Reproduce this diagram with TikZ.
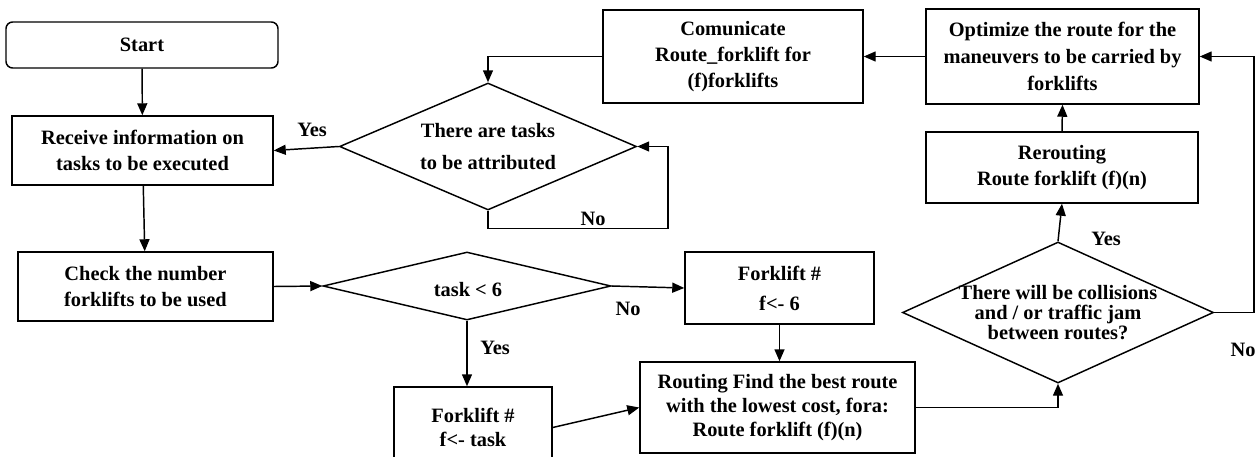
\documentclass[tikz,border=0pt]{standalone}
\usepackage{fontspec}
\setmainfont{Liberation Serif}
\usetikzlibrary{shapes.geometric,arrows.meta}
\begin{document}
\begin{tikzpicture}[x=0.75pt,y=-0.75pt,
  every node/.style={font=\bfseries\fontsize{15.3}{19}\selectfont},
  box/.style={draw,line width=1.1pt,inner sep=0pt,align=center},
  dia/.style={draw,diamond,line width=1.1pt,inner sep=0pt},
  lbl/.style={align=center,inner sep=0pt},
  arr/.style={line width=1.1pt,-{Triangle[length=9pt,width=7.5pt]}},
  ln/.style={line width=1.1pt}]
\useasboundingbox (0,0) rectangle (1258,457);

% boxes
\node[box,rounded corners=5pt,minimum width=204pt,minimum height=34.5pt] (start) at (142,45) {Start};
\node[box,minimum width=195.75pt,minimum height=51.75pt] (recv) at (142.5,150.5) {Receive information on\\tasks to be executed};
\node[box,minimum width=191.25pt,minimum height=51.75pt] (check) at (145.5,286.5) {Check the number\\forklifts to be used};
\node[box,minimum width=141.75pt,minimum height=54pt,font=\bfseries\fontsize{15.3}{22.5}\selectfont] (f6) at (779.5,288) {Forklift \#\\f<- 6};
\node[box,minimum width=118.5pt,minimum height=60.75pt,font=\bfseries\fontsize{15.3}{18.5}\selectfont] (ftask) at (473,427.5) {Forklift \#\\f<- task};
\node[box,minimum width=206.25pt,minimum height=68.25pt,font=\bfseries\fontsize{15.3}{18}\selectfont] (routing) at (777.5,407.5) {Routing Find the best route\\with the lowest cost, fora:\\Route forklift (f)(n)};
\node[box,minimum width=204pt,minimum height=53.25pt,font=\bfseries\fontsize{15.3}{20}\selectfont] (rer) at (1062,167.5) {Rerouting\\Route forklift (f)(n)};
\node[box,minimum width=204.75pt,minimum height=71.25pt,font=\bfseries\fontsize{15.3}{20}\selectfont] (opt) at (1062.5,56.5) {Optimize the route for the\\maneuvers to be carried by\\forklifts};
\node[box,minimum width=195pt,minimum height=69.75pt,font=\bfseries\fontsize{15.3}{19.5}\selectfont] (comm) at (733,56.5) {Comunicate\\Route\_forklift for\\(f)forklifts};

% diamonds
\node[dia,minimum width=222.75pt,minimum height=95.25pt] (d1) at (488,146.5) {};
\node[lbl,font=\bfseries\fontsize{15.3}{24}\selectfont] (d1t) at (488,146.5) {There are tasks\\to be attributed};
\node[dia,minimum width=216pt,minimum height=51pt] (d2) at (467,286) {};
\node[lbl] (d2t) at (468,290) {task < 6};
\node[dia,minimum width=233.25pt,minimum height=105.75pt] (d3) at (1058,312.5) {};
\node[lbl,font=\bfseries\fontsize{15.3}{15}\selectfont] (d3t) at (1058,313) {There will be collisions\\and / or traffic jam\\between routes?};

% labels
\node[lbl] (yes1) at (312,130) {Yes};
\node[lbl] (no1) at (593,219) {No};
\node[lbl] (no2) at (628,309) {No};
\node[lbl] (yes2) at (495,348) {Yes};
\node[lbl] (yes3) at (1106,239) {Yes};
\node[lbl] (no3) at (1243,350) {No};

\coordinate (lp) at (668,146.5);
\coordinate (rp) at (1254,312.5);

% connectors
\draw[arr] (start) -- (recv);
\draw[arr] (recv) -- (check);
\draw[arr] (check.east) -- (d2.west);
\draw[arr] (d2.east) -- (f6.west);
\draw[arr] (d2.south) -- (d2.south |- ftask.north);
\draw[arr] (ftask.east) -- (routing.west);
\draw[arr] (f6.south) -- (f6.south |- routing.north);
\draw[arr] (routing.east) -| (d3.south);
\draw[arr] (d3.north) -- (rer.south);
\draw[arr] (d3.east) -- (rp) |- (opt.east);
\draw[arr] (rer.north) -- (opt.south);
\draw[arr] (opt.west) -- (comm.east);
\draw[arr] (comm.west) -| (d1.north);
\draw[arr] (d1.west) -- (recv.east);
\draw[arr] (d1.south) -- ++(0,18) -| (lp) -- (d1.east);
\end{tikzpicture}
\end{document}
